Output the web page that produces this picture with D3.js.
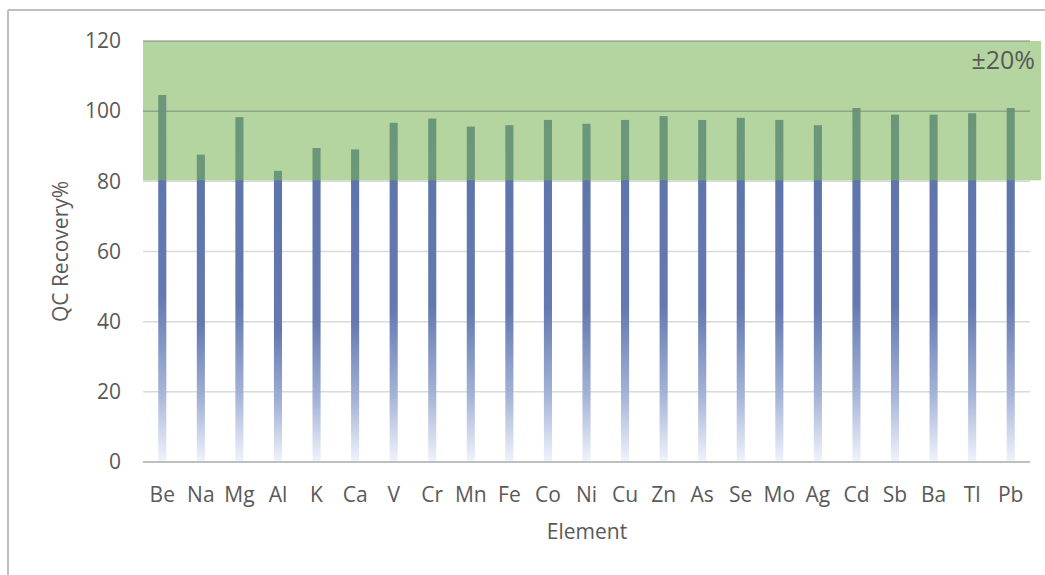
<!DOCTYPE html>
<html><head><meta charset="utf-8">
<script src="https://cdn.jsdelivr.net/npm/d3@7"></script>
<style>
html,body{margin:0;padding:0;background:#fff;}
text{font-family:"Open Sans",sans-serif;}
</style></head>
<body>
<svg id="chart" width="1045" height="575"></svg>
<script>
const elements = ["Be","Na","Mg","Al","K","Ca","V","Cr","Mn","Fe","Co","Ni","Cu","Zn","As","Se","Mo","Ag","Cd","Sb","Ba","Tl","Pb"];
const recovery = [104.6,87.6,98.3,83.0,89.5,89.1,96.7,97.9,95.6,96.0,97.5,96.4,97.5,98.6,97.5,98.1,97.5,96.0,100.9,99.0,99.0,99.4,100.9];
const yTicks = [0,20,40,60,80,100,120];
const bandRange = [80,120];
const bandLabel = "±20%";

const svg = d3.select("#chart");
const m = {left:143, right:1030, top:41, bottom:462};
const FS = "21px";

// outer frame (top and left edges visible)
svg.append("line").attr("x1",8).attr("x2",1045).attr("y1",10).attr("y2",10).attr("stroke","#bfbfbf").attr("stroke-width",2);
svg.append("line").attr("x1",8).attr("x2",8).attr("y1",10).attr("y2",575).attr("stroke","#bfbfbf").attr("stroke-width",2);

const x = d3.scaleBand().domain(elements).range([m.left,m.right]).paddingInner(0.79).paddingOuter(0.395);
const y = d3.scaleLinear().domain([0,120]).range([m.bottom,m.top]);

const defs = svg.append("defs");
const grad = defs.append("linearGradient").attr("id","barGrad").attr("x1",0).attr("x2",0).attr("y1",0).attr("y2",1);
[[0,"#5c74ab"],[0.55,"#6479b0"],[0.8,"#a3b2d6"],[1,"#f0f3fb"]].forEach(([o,c])=>grad.append("stop").attr("offset",o).attr("stop-color",c));

// light gridlines
svg.append("g").selectAll("line").data(yTicks.filter(t=>t>0)).join("line")
  .attr("x1",m.left).attr("x2",m.right).attr("y1",d=>y(d)).attr("y2",d=>y(d))
  .attr("stroke","#d9d9d9").attr("stroke-width",1.5);

// bars
svg.append("g").selectAll("rect").data(elements).join("rect")
  .attr("x",d=>x(d)).attr("width",x.bandwidth())
  .attr("y",(d,i)=>y(recovery[i])).attr("height",(d,i)=>y(0)-y(recovery[i]))
  .attr("fill","url(#barGrad)");

// acceptance band
svg.append("rect").attr("x",m.left).attr("width",1041-m.left)
  .attr("y",y(bandRange[1])).attr("height",y(bandRange[0])-y(bandRange[1])-1)
  .attr("fill","#77b352").attr("opacity",0.55);

// gridlines inside band
svg.append("g").selectAll("line").data(yTicks.filter(t=>t>=100)).join("line")
  .attr("x1",m.left).attr("x2",m.right).attr("y1",d=>y(d)).attr("y2",d=>y(d))
  .attr("stroke","#808080").attr("stroke-opacity",0.45).attr("stroke-width",1.5);

// x axis line
svg.append("line").attr("x1",m.left).attr("x2",m.right).attr("y1",y(0)).attr("y2",y(0))
  .attr("stroke","#bfbfbf").attr("stroke-width",2);

// y axis
const yAxis = d3.axisLeft(y).tickValues(yTicks).tickSize(0).tickPadding(22);
const gy = svg.append("g").attr("transform",`translate(${m.left},0)`).call(yAxis);
gy.select(".domain").remove();
gy.selectAll("text").attr("fill","#595959").style("font-size",FS).style("font-family","'Open Sans',sans-serif");

// x axis
const xAxis = d3.axisBottom(x).tickSize(0).tickPadding(25);
const gx = svg.append("g").attr("transform",`translate(0,${y(0)})`).call(xAxis);
gx.select(".domain").remove();
gx.selectAll("text").attr("fill","#595959").style("font-size",FS).style("font-family","'Open Sans',sans-serif");

// titles
svg.append("text").attr("x",587).attr("y",539).attr("text-anchor","middle")
  .attr("fill","#595959").style("font-size","21px").text("Element");
svg.append("text").attr("transform",`translate(68,${(m.top+m.bottom)/2}) rotate(-90)`).attr("text-anchor","middle")
  .attr("fill","#595959").style("font-size","21px").text("QC Recovery%");

// band label
svg.append("text").attr("x",1035).attr("y",69).attr("text-anchor","end")
  .attr("fill","#595959").style("font-size","25px").text(bandLabel);
</script>
</body></html>
